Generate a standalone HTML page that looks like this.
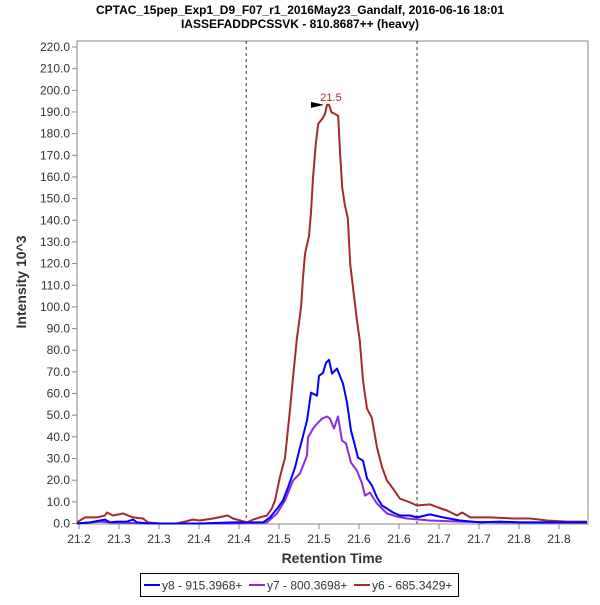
<!DOCTYPE html>
<html><head><meta charset="utf-8"><style>
body{margin:0;background:#fff;font-family:"Liberation Sans",sans-serif}
svg text{font-family:"Liberation Sans",sans-serif}
</style></head><body>
<svg id="chart" width="600" height="600" xmlns="http://www.w3.org/2000/svg">
<rect width="600" height="600" fill="#fff"/>
<text x="300" y="14" text-anchor="middle" font-size="12" font-weight="bold">CPTAC_15pep_Exp1_D9_F07_r1_2016May23_Gandalf, 2016-06-16 18:01</text>
<text x="300" y="28" text-anchor="middle" font-size="12" font-weight="bold">IASSEFADDPCSSVK - 810.8687++ (heavy)</text>
<rect x="77" y="41" width="511" height="483" fill="none" stroke="#888" stroke-width="1"/>
<g id="yaxis"></g>
<g id="xaxis"></g>
<g id="series"></g>
<text transform="translate(26,282) rotate(-90)" text-anchor="middle" font-size="14" font-weight="bold" fill="#333">Intensity 10^3</text>
<text x="332" y="563" text-anchor="middle" font-size="14" font-weight="bold" fill="#333">Retention Time</text>
<g>
<rect x="140.5" y="573.5" width="318" height="23" fill="#fff" stroke="#000"/>
<line x1="144" y1="585" x2="160" y2="585" stroke="#0000ff" stroke-width="2"/>
<text x="162" y="589.5" font-size="12" fill="#333">y8 - 915.3968+</text>
<line x1="249" y1="585" x2="265" y2="585" stroke="#8a2be2" stroke-width="2"/>
<text x="267" y="589.5" font-size="12" fill="#333">y7 - 800.3698+</text>
<line x1="354" y1="585" x2="370" y2="585" stroke="#a52a2a" stroke-width="2"/>
<text x="372" y="589.5" font-size="12" fill="#333">y6 - 685.3429+</text>
</g>
</svg>
<script>
const yTicks=[0,10,20,30,40,50,60,70,80,90,100,110,120,130,140,150,160,170,180,190,200,210,220];
const xTickVals=[21.2,21.25,21.3,21.35,21.4,21.45,21.5,21.55,21.6,21.65,21.7,21.75,21.8];
const xTickLabels=["21.2","21.3","21.3","21.4","21.4","21.5","21.5","21.6","21.6","21.7","21.7","21.8","21.8"];
const boundaries=[21.409,21.6225];
const peakTime=21.5125, peakValue=193.3, peakLabel="21.5";
const y8Times=[21.1975,21.2138,21.2263,21.2325,21.2388,21.2475,21.26,21.2675,21.2725,21.2888,21.3513,21.3925,21.4175,21.43,21.4388,21.4488,21.455,21.4613,21.47,21.4763,21.485,21.49,21.4975,21.5,21.505,21.5088,21.5125,21.5163,21.5225,21.53,21.535,21.54,21.545,21.5488,21.555,21.56,21.5663,21.5725,21.5788,21.585,21.5925,21.6013,21.6138,21.6225,21.6388,21.655,21.6763,21.7013,21.7263,21.7513,21.785,21.835];
const y8Values=[0,0.5,1.4,1.8,0.5,0.9,0.9,1.8,0.5,0,0,0.5,0.5,0.5,2.8,7.4,10.6,16.6,25.8,35.1,47.5,60.4,59,68.2,69.6,74.2,75.6,69.2,71.5,64.6,55.8,42.9,35.9,30.4,29,20.8,17.5,12,8.3,6.9,5.1,3.7,3.7,2.8,4.2,2.8,1.4,0.5,0.9,0.5,0.5,0.5];
const y7Times=[21.1975,21.2263,21.2388,21.2888,21.3888,21.435,21.4475,21.4575,21.4675,21.4763,21.485,21.4863,21.4925,21.4975,21.5038,21.51,21.5138,21.5188,21.5238,21.5288,21.5338,21.54,21.5475,21.5538,21.5575,21.5638,21.5675,21.5725,21.585,21.5975,21.61,21.6263,21.6388,21.6763,21.7263,21.835];
const y7Values=[0,0.9,0.5,0,0,0.5,4.6,10.6,19.8,23.1,31.4,39.7,43.8,46.1,48.4,49.4,48.4,43.8,49.4,38.3,36.9,28.1,24.4,18.5,12.9,14.3,12,9.2,4.6,3.2,2.3,1.8,1.4,0.9,0.5,0.5];
const y6Times=[21.1975,21.2075,21.2225,21.2325,21.235,21.2425,21.255,21.2675,21.28,21.2863,21.301,21.3225,21.3425,21.351,21.3675,21.386,21.3925,21.41,21.4175,21.426,21.435,21.441,21.445,21.451,21.4575,21.464,21.4675,21.4725,21.4775,21.48,21.4825,21.4875,21.49,21.4925,21.496,21.499,21.504,21.5075,21.51,21.5125,21.516,21.5175,21.524,21.526,21.529,21.5325,21.536,21.539,21.5425,21.5475,21.551,21.555,21.56,21.566,21.5725,21.579,21.585,21.5925,21.601,21.614,21.6225,21.639,21.649,21.66,21.6725,21.679,21.689,21.714,21.7425,21.764,21.785,21.81,21.835];
const y6Values=[0.5,2.8,2.8,3.7,5.1,3.7,4.6,2.8,2.3,0.5,0,0,1.8,1.4,2.3,3.7,2.3,0.5,1.8,2.8,3.7,6.9,10.6,21.2,30.4,53.5,67.3,85.8,99.6,113.5,124.5,132.8,143.5,159.6,175.3,184.5,186.8,189.1,193.3,193.3,189.6,189.6,188.2,173.4,155,146.7,141.1,119.9,108.9,93.6,84.4,66,53,48.9,35.1,25.8,19.8,16.1,11.5,9.7,8.3,8.8,7.4,6,3.7,5.1,2.8,2.8,2.3,2.3,1.4,0.9,0.9];

const NS="http://www.w3.org/2000/svg";
const X0=79, PXPERT=800, T0=21.2, Y0=523.5, PXPERV=476.5/220;
function xs(t){return X0+(t-T0)*PXPERT;}
function ys(v){return Y0-v*PXPERV;}
function mk(tag,attrs,parent){const e=document.createElementNS(NS,tag);for(const k in attrs)e.setAttribute(k,attrs[k]);parent.appendChild(e);return e;}
const ya=document.getElementById('yaxis'), xa=document.getElementById('xaxis'), sg=document.getElementById('series');
yTicks.forEach(v=>{
  const t=mk('line',{x1:72,x2:77,y1:ys(v),y2:ys(v),stroke:'#888'},ya);
  
  
  const l=mk('text',{x:70,y:ys(v)+4,'text-anchor':'end','font-size':12,fill:'#333'},ya);
  
  
  l.textContent=v.toFixed(1);
});
xTickVals.forEach((v,i)=>{
  const t=mk('line',{x1:xs(v),x2:xs(v),y1:524,y2:529,stroke:'#888'},xa);
  
  
  const l=mk('text',{x:xs(v),y:543,'text-anchor':'middle','font-size':12,fill:'#333'},xa);
  
  
  l.textContent=xTickLabels[i];
});
boundaries.forEach(b=>{
  const d=mk('line',{x1:xs(b),x2:xs(b),y1:41,y2:524,stroke:'#333','stroke-dasharray':'3,3'},sg);
  
  
});
function drawSeries(ts,vs,color,name){
  const p=mk('polyline',{points:ts.map((t,i)=>xs(t).toFixed(1)+','+ys(vs[i]).toFixed(1)).join(' '),fill:'none',stroke:color,'stroke-width':2,'stroke-linejoin':'round'},sg);
  
  
}
drawSeries(y6Times,y6Values,'#a52a2a','series-y6');
drawSeries(y7Times,y7Values,'#8a2be2','series-y7');
drawSeries(y8Times,y8Values,'#0000ff','series-y8');
const px=xs(peakTime), py=ys(peakValue);
const ar=mk('polygon',{points:(px-18)+','+(py-3)+' '+(px-5)+','+(py)+' '+(px-18)+','+(py+3),fill:'#000'},sg);


const pl=mk('text',{x:px+2,y:py-4,'text-anchor':'middle','font-size':11,fill:'#a52a2a'},sg);


pl.textContent=peakLabel;
</script>
</body></html>
